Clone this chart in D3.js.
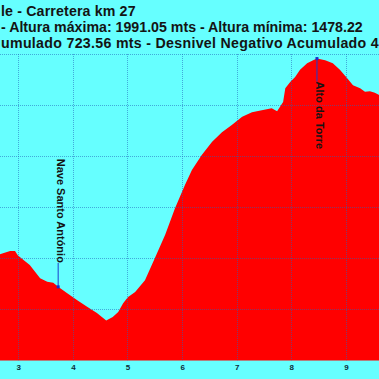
<!DOCTYPE html>
<html>
<head>
<meta charset="utf-8">
<script src="https://cdn.jsdelivr.net/npm/d3@7"></script>
<style>
html,body{margin:0;padding:0;background:#66ffff;overflow:hidden;}
svg{display:block;}
</style>
</head>
<body>
<svg id="chart" width="379" height="379"></svg>
<script>
// ---- data ----
const distanceKm = [2.60,2.665,2.72,2.85,2.94,2.99,3.09,3.21,3.31,3.40,3.53,3.64,3.73,3.89,4.08,4.26,4.44,4.61,4.73,4.83,4.92,5.01,5.05,5.14,5.32,5.50,5.69,5.87,6.05,6.18,6.36,6.55,6.73,6.91,7.10,7.28,7.46,7.64,7.74,7.85,7.89,7.98,8.07,8.16,8.29,8.40,8.47,8.62,8.76,8.89,9.02,9.13,9.26,9.35,9.44,9.53,9.60,9.70];
const elevationM = [1605,1608,1610,1614,1614,1606,1597,1587,1573,1561,1554,1552,1544,1532,1518,1505,1493,1478.22,1485,1495,1512,1524,1527,1534,1557,1600,1646,1698,1743,1773,1802,1828,1847,1861,1877,1886,1890,1894,1888,1906,1933,1945,1955,1969,1982,1988,1991.05,1988,1982,1969,1953,1939,1933,1926,1927,1924,1920,1915];
const kmGrid = [2,3,4,5,6,7,8,9,10];
const kmTickLabels = [3,4,5,6,7,8,9];
const elevTicks = [1400,1500,1600,1700,1800,1900,2000];
const markerNames = ["Nave Santo António","Alto da Torre"];
const markerKm = [3.73,8.47];
const markerElev = [1544,1991.05];
const titleLines = [
  "le - Carretera km 27",
  "- Altura máxima: 1991.05 mts - Altura mínima: 1478.22",
  "umulado 723.56 mts - Desnivel Negativo Acumulado 4"
];

// ---- drawing ----
const svg = d3.select("#chart");
const W = 379, H = 379;
const x = d3.scaleLinear().domain([3,9]).range([18.3,345.9]);
const y = d3.scaleLinear().domain([1400,2000]).range([360.4,54]);

const pts = distanceKm.map((d,i)=>({km:d, e:elevationM[i]}));

// area
svg.append("path")
  .datum(pts)
  .attr("fill","#ff0000")
  .attr("d", d3.area().x(d=>x(d.km)).y0(y(1400)).y1(d=>y(d.e)));

// grid
const grid = svg.append("g").attr("stroke","#2266bb").attr("stroke-opacity",0.55)
  .attr("stroke-width",1).attr("stroke-dasharray","1,1");
grid.selectAll("line.v").data(kmGrid).join("line")
  .attr("x1",d=>Math.round(x(d))+0.5).attr("x2",d=>Math.round(x(d))+0.5)
  .attr("y1",y(2000)).attr("y2",y(1400));
grid.selectAll("line.h").data(elevTicks.slice(1)).join("line")
  .attr("x1",0).attr("x2",W)
  .attr("y1",d=>Math.round(y(d))+0.5).attr("y2",d=>Math.round(y(d))+0.5);

// x tick labels
const xAxis = d3.axisBottom(x).tickValues(kmTickLabels).tickSize(0).tickPadding(4).tickFormat(d3.format("d"));
const gx = svg.append("g").attr("transform",`translate(0,${y(1400)})`).call(xAxis);
gx.select(".domain").remove();
gx.selectAll("text").attr("font-family","Liberation Sans, Arial, sans-serif")
  .attr("font-weight","bold").attr("font-size","8px").attr("fill","#0b2e3a");

// markers
markerNames.forEach((name,i)=>{
  const mx = x(markerKm[i]), my = y(markerElev[i]);
  const up = i===0;
  const textEnd = up ? my-24 : my+23;
  svg.append("line").attr("x1",mx).attr("x2",mx).attr("y1",my).attr("y2",textEnd)
    .attr("stroke","#1a3dcc").attr("stroke-width",1);
  svg.append("rect").attr("x",mx-1.5).attr("y",my-1.5).attr("width",3).attr("height",3).attr("fill","#1a2dcc");
  svg.append("text")
    .attr("transform",`translate(${mx-0.8},${textEnd}) rotate(90)`)
    .attr("text-anchor", up ? "end" : "start")
    .attr("font-family","Liberation Sans, Arial, sans-serif")
    .attr("font-weight","bold").attr("font-size","11px").attr("fill","#141414")
    .text(name);
});

// title
const baselines = [15.5,32,47.5];
const spacing = [0.15,0,0.3];
titleLines.forEach((t,i)=>{
  svg.append("text").attr("x",1).attr("y",baselines[i])
    .attr("font-family","Liberation Sans, Arial, sans-serif")
    .attr("font-weight","bold").attr("font-size","14.2px").attr("fill","#141414")
    .attr("letter-spacing",spacing[i])
    .text(t);
});
</script>
</body>
</html>
